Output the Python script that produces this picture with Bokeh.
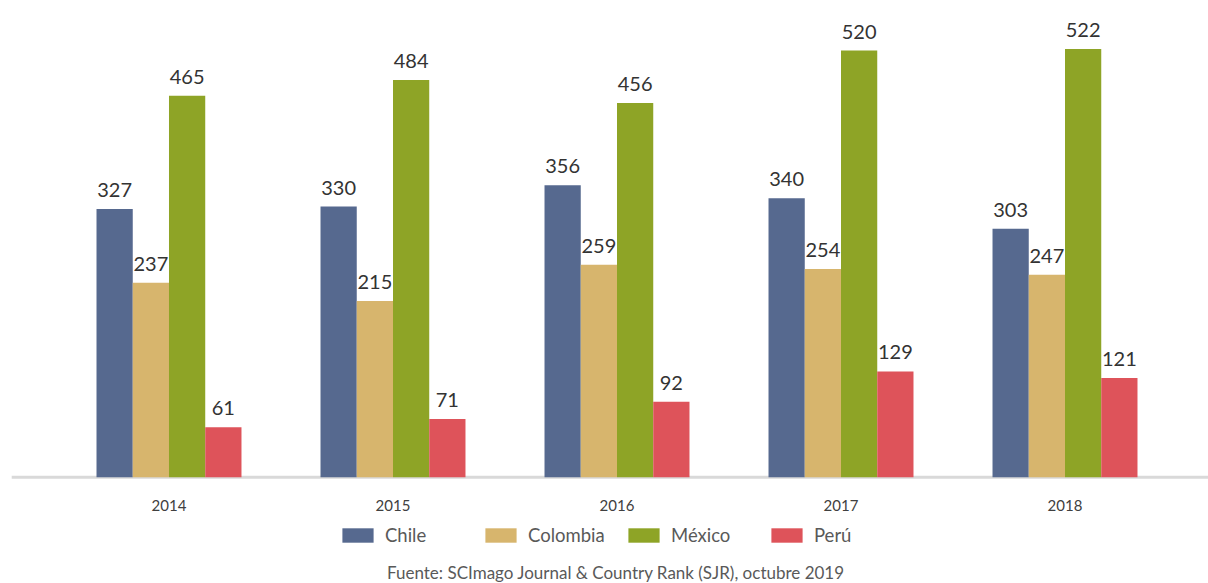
from bokeh.plotting import figure
from bokeh.models import ColumnDataSource, Range1d, Legend, LegendItem, Label
from bokeh.core.properties import value
from bokeh.embed import file_html
from bokeh.resources import INLINE

years = ["2014", "2015", "2016", "2017", "2018"]
countries = ["Chile", "Colombia", "México", "Perú"]
chile = [327, 330, 356, 340, 303]
colombia = [237, 215, 259, 254, 247]
mexico = [465, 484, 456, 520, 522]
peru = [61, 71, 92, 129, 121]
series = [chile, colombia, mexico, peru]
colors = ["#56698F", "#D7B56D", "#8EA426", "#DE535A"]
caption = "Fuente: SCImago Journal & Country Rank (SJR), octubre 2019"

W, H = 1208, 583
p = figure(width=W, height=H, output_backend="svg", toolbar_location=None,
           x_range=Range1d(-0.7522, 4.6406), y_range=Range1d(-129.3, 581.0),
           min_border=0, outline_line_color=None)
p.xaxis.visible = False
p.yaxis.visible = False
p.xgrid.visible = False
p.ygrid.visible = False
p.background_fill_color = "white"
p.border_fill_color = "white"

idx = list(range(len(years)))
# baseline
p.segment(x0=[-0.7022], y0=[0], x1=[4.6406], y1=[0], line_color="#D9D9D9", line_width=3)

bw = 0.1618
offsets = [-1.5 * bw, -0.5 * bw, 0.5 * bw, 1.5 * bw]
items = []
for name, vals, col, off in zip(countries, series, colors, offsets):
    src = ColumnDataSource(dict(x=[i + off for i in idx], top=vals,
                                lab=[str(v) for v in vals]))
    r = p.vbar(x="x", top="top", bottom=0, width=bw, source=src,
               fill_color=col, line_color=None)
    p.text(x="x", y="top", text="lab", source=src, text_align="center",
           text_baseline="alphabetic", y_offset=-19,
           text_font=value("Lato"), text_font_size=value("20px"),
           text_color="#333333")
    items.append(LegendItem(label=name, renderers=[r]))

ysrc = ColumnDataSource(dict(x=idx, y=[0] * len(years), t=years))
p.text(x="x", y="y", text="t", source=ysrc, text_align="center",
       text_baseline="middle", y_offset=28, text_font=value("Lato"),
       text_font_size=value("15px"), text_color="#404040")

legend = Legend(items=items, orientation="horizontal", location=(338, 37),
                glyph_width=39, glyph_height=18, label_height=18, label_width=80,
                label_standoff=8, spacing=16, padding=0, margin=0,
                border_line_color=None, background_fill_alpha=0,
                label_text_font="Lato", label_text_font_size="18.5px",
                label_text_color="#595959")
p.add_layout(legend)

p.add_layout(Label(x=615.5, y=11, x_units="screen", y_units="screen", text=caption,
                   text_align="center", text_baseline="middle", text_font="Lato",
                   text_font_size="17px", text_color="#595959"))

open("out.html", "w").write(file_html(p, INLINE))
